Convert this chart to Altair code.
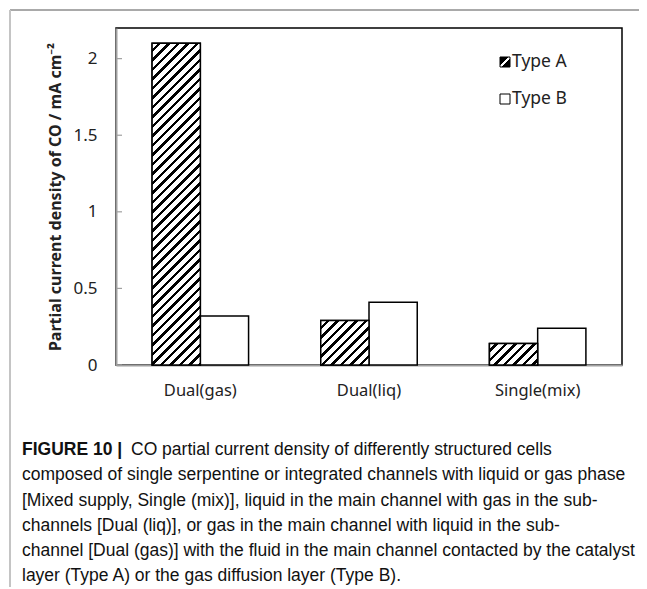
import math
import altair as alt
import pandas as pd

# ---------------- data ----------------
categories = ["Dual(gas)", "Dual(liq)", "Single(mix)"]
types = ["Type A", "Type B"]
type_a = [2.10, 0.29, 0.14]
type_b = [0.32, 0.41, 0.24]
y_ticks = [0, 0.5, 1, 1.5, 2]
y_title = "Partial current density of CO / mA cm⁻²"
caption_head = ["FIGURE 10 |"]
caption_first = ["CO partial current density of differently structured cells"]
caption_rest = [
    "composed of single serpentine or integrated channels with liquid or gas phase",
    "[Mixed supply, Single (mix)], liquid in the main channel with gas in the sub-",
    "channels [Dual (liq)], or gas in the main channel with liquid in the sub-",
    "channel [Dual (gas)] with the fluid in the main channel contacted by the catalyst",
    "layer (Type A) or the gas diffusion layer (Type B).",
]

# ---------------- layout / style ----------------
W, H = 506, 337
Y_MAX = 2.2
PAD = {"left": 108, "top": 20, "right": 17, "bottom": 222}
FONT = "Noto Sans"
CAP_FONT = "Liberation Sans"
CAP_SIZE = 17.5
CAP_LH = 25.3
GREY = "#a0a0a0"
TXT = "#222222"
P_IN, P_OUT = 0.428, 0.214

rows = []
for c, a, b in zip(categories, type_a, type_b):
    rows.append({"category": c, "type": types[0], "value": a})
    rows.append({"category": c, "type": types[1], "value": b})
bars_df = pd.DataFrame(rows)

step = W / (len(categories) - P_IN + 2 * P_OUT)
bar_w = step * (1 - P_IN) / 2
px_per_unit = H / Y_MAX


def hatch(w, h, period=9.5, duty=0.4):
    """diagonal '/' hatch as a bounding-box linear gradient"""
    tot = w + h
    c = tot / (w * w + h * h)
    pt = period / tot
    stops = []
    k = 0
    while k * pt < 1:
        s = k * pt
        m = min(s + (1 - duty) * pt, 1)
        e = min(s + pt, 1)
        stops += [
            {"offset": s, "color": "white"},
            {"offset": m, "color": "white"},
            {"offset": m, "color": "black"},
            {"offset": e, "color": "black"},
        ]
        k += 1
    return {"gradient": "linear", "x1": 0, "y1": 0, "x2": c * w, "y2": c * h,
            "stops": stops}


x_enc = alt.X(
    "category:N",
    scale=alt.Scale(domain=categories, paddingInner=P_IN, paddingOuter=P_OUT),
    axis=alt.Axis(title=None, ticks=False, labelAngle=0, labelFontSize=16.5,
                  labelPadding=17, labelFont=FONT, labelColor=TXT,
                  domainColor=GREY, domainWidth=2),
)
xo_enc = alt.XOffset("type:N", scale=alt.Scale(domain=types, paddingInner=0, paddingOuter=0))
y_enc = alt.Y(
    "value:Q",
    scale=alt.Scale(domain=[0, Y_MAX], nice=False, zero=True),
    axis=alt.Axis(values=y_ticks, format="~g", ticks=False, grid=False,
                  domainColor=GREY, domainWidth=2, labelFontSize=17,
                  labelPadding=19, labelFont=FONT, labelColor=TXT,
                  title=y_title, titleFont=FONT, titleFontSize=16,
                  titleFontWeight="bold", titleColor=TXT, titleX=-61,
                  titleY=H / 2, titleAlign="center", titleBaseline="middle",
                  titleAngle=270),
)

base = alt.Chart(bars_df).mark_bar(fill="white", stroke="black", strokeWidth=1.5).encode(
    x=x_enc, xOffset=xo_enc, y=y_enc
)

layers = [base]
for c, a in zip(categories, type_a):
    g = hatch(bar_w, a * px_per_unit)
    layers.append(
        alt.Chart(bars_df)
        .transform_filter((alt.datum.category == c) & (alt.datum.type == types[0]))
        .mark_bar(fill=g, stroke="black", strokeWidth=1.5)
        .encode(x=alt.X("category:N"), xOffset=alt.XOffset("type:N"), y=alt.Y("value:Q"))
    )

# inward y ticks
ticks_df = pd.DataFrame({"value": y_ticks})
layers.append(
    alt.Chart(ticks_df).mark_rule(color=GREY, strokeWidth=1.2).encode(
        y=alt.Y("value:Q"), x=alt.value(0), x2=alt.value(6)
    )
)

# legend
leg_grad = {"gradient": "linear", "x1": 0, "y1": 0, "x2": 1, "y2": 1,
            "stops": [{"offset": 0, "color": "black"}, {"offset": 0.42, "color": "black"},
                      {"offset": 0.42, "color": "white"}, {"offset": 0.58, "color": "white"},
                      {"offset": 0.58, "color": "black"}, {"offset": 1, "color": "black"}]}
leg_y = [34, 71]
for i, t in enumerate(types):
    ldf = pd.DataFrame({"label": [t]})
    layers.append(
        alt.Chart(ldf).mark_square(size=100, fill=leg_grad if i == 0 else "white",
                                   stroke="black", strokeWidth=1, opacity=1)
        .encode(x=alt.value(389), y=alt.value(leg_y[i]))
    )
    layers.append(
        alt.Chart(ldf).mark_text(align="left", baseline="middle", fontSize=17.5,
                                 font=FONT, color=TXT)
        .encode(x=alt.value(396), y=alt.value(leg_y[i]), text="label:N")
    )

# figure frame lines
one = pd.DataFrame({"k": [0]})
layers.append(
    alt.Chart(one).mark_rule(color="#555555", strokeWidth=1).encode(
        x=alt.value(-106), x2=alt.value(W + PAD["right"]), y=alt.value(-18))
)
layers.append(
    alt.Chart(one).mark_rule(color="#c4c4c4", strokeWidth=2).encode(
        x=alt.value(-106), y=alt.value(-18), y2=alt.value(H + PAD["bottom"]))
)

# caption
cap_y0 = 427
layers.append(
    alt.Chart(pd.DataFrame({"t": caption_head})).mark_text(
        align="left", baseline="alphabetic", fontSize=CAP_SIZE, font=CAP_FONT,
        fontWeight="bold", color="#111111")
    .encode(x=alt.value(-94), y=alt.value(cap_y0), text="t:N")
)
layers.append(
    alt.Chart(pd.DataFrame({"t": caption_first})).mark_text(
        align="left", baseline="alphabetic", fontSize=CAP_SIZE, font=CAP_FONT,
        color="#111111")
    .encode(x=alt.value(15), y=alt.value(cap_y0), text="t:N")
)
layers.append(
    alt.Chart(pd.DataFrame({"t": ["\n".join(caption_rest)]})).mark_text(
        align="left", baseline="alphabetic", fontSize=CAP_SIZE, font=CAP_FONT,
        color="#111111", lineBreak="\n", lineHeight=CAP_LH)
    .encode(x=alt.value(-94), y=alt.value(cap_y0 + CAP_LH), text="t:N")
)

chart = (
    alt.layer(*layers)
    .properties(width=W, height=H, autosize=alt.AutoSizeParams(type="none"), padding=PAD)
    .configure_view(stroke="black", strokeWidth=1.5)
)

chart.save("out.html", embed_options={"renderer": "svg", "actions": False})
